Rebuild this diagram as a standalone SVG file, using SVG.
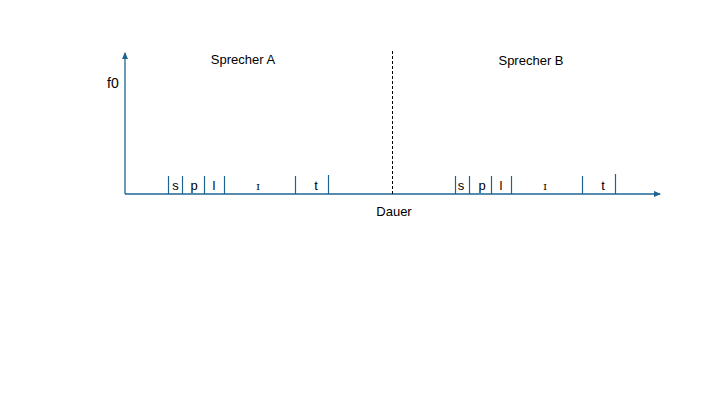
<svg xmlns="http://www.w3.org/2000/svg" width="720" height="405" viewBox="0 0 720 405">
<defs>
<marker id="ah" markerWidth="8" markerHeight="8" refX="6" refY="3" orient="auto" markerUnits="userSpaceOnUse">
<path d="M0,0 L7,3 L0,6 z" fill="#1d6490"/>
</marker>
<style>
.ax{stroke:#1d6490;stroke-width:1.3;fill:none}
.tk{stroke:#1d6490;stroke-width:1.2}
.t{font-family:"Liberation Sans",Arial,sans-serif;font-size:13px;fill:#000}
.ph{font-family:"Liberation Sans",Arial,sans-serif;font-size:13px;fill:#000;text-anchor:middle}
.ipa{font-family:"DejaVu Serif","Liberation Serif",serif;font-size:11px;fill:#000;text-anchor:middle}
</style>
</defs>
<rect width="720" height="405" fill="#fff"/>
<g id="connectors">
<line class="ax" x1="125" y1="194" x2="125" y2="53" marker-end="url(#ah)"/>
<line class="ax" x1="125" y1="194" x2="660" y2="194" marker-end="url(#ah)"/>
<line x1="392.5" y1="51" x2="392.5" y2="194" stroke="#000" stroke-width="1" stroke-dasharray="3,2"/>
</g>
<g id="labels">
<text class="t" x="107" y="88" style="font-size:14px">f0</text>
<text class="t" x="243" y="64" text-anchor="middle">Sprecher A</text>
<text class="t" x="531" y="65" text-anchor="middle">Sprecher B</text>
<text class="t" x="394" y="216" text-anchor="middle">Dauer</text>
</g>
<g id="speaker-a">
<line class="tk" x1="168.5" y1="176" x2="168.5" y2="194"/>
<line class="tk" x1="182.5" y1="176" x2="182.5" y2="194"/>
<line class="tk" x1="204.5" y1="176" x2="204.5" y2="194"/>
<line class="tk" x1="224.5" y1="176" x2="224.5" y2="194"/>
<line class="tk" x1="295.5" y1="176" x2="295.5" y2="194"/>
<line class="tk" x1="328.5" y1="175" x2="328.5" y2="194"/>
<text class="ph" x="175.5" y="190">s</text>
<text class="ph" x="194" y="190">p</text>
<text class="ph" x="214" y="190">l</text>
<text class="ipa" x="258" y="190">ɪ</text>
<text class="ph" x="316" y="190">t</text>
</g>
<g id="speaker-b">
<line class="tk" x1="455.5" y1="176" x2="455.5" y2="194"/>
<line class="tk" x1="469.5" y1="176" x2="469.5" y2="194"/>
<line class="tk" x1="491.5" y1="176" x2="491.5" y2="194"/>
<line class="tk" x1="511.5" y1="176" x2="511.5" y2="194"/>
<line class="tk" x1="582.5" y1="176" x2="582.5" y2="194"/>
<line class="tk" x1="615.5" y1="174" x2="615.5" y2="194"/>
<text class="ph" x="461" y="190">s</text>
<text class="ph" x="482" y="190">p</text>
<text class="ph" x="501" y="190">l</text>
<text class="ipa" x="545" y="190">ɪ</text>
<text class="ph" x="603" y="190">t</text>
</g>
</svg>
